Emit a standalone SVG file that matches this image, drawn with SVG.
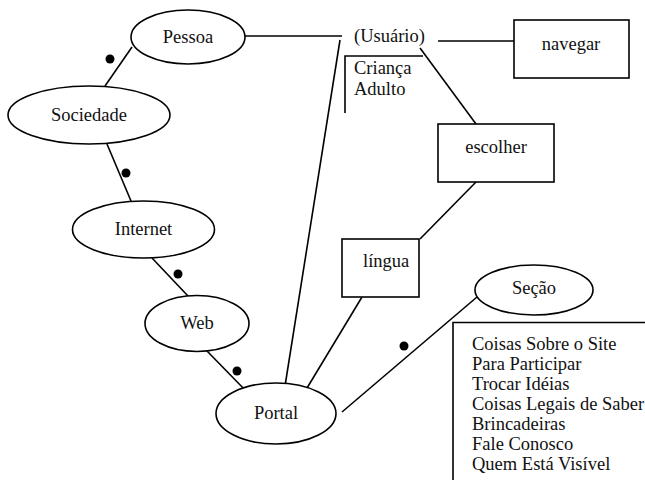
<svg xmlns="http://www.w3.org/2000/svg" width="645" height="480" viewBox="0 0 645 480">
  <style>
    .shape { fill: #fff; stroke: #000; stroke-width: 1.6; }
    .line { fill: none; stroke: #000; stroke-width: 1.6; }
    .dot { fill: #000; }
    text { font-family: "Liberation Serif", "Times New Roman", serif; font-size: 18.5px; fill: #111; }
    .c { text-anchor: middle; }
  </style>
  <rect width="645" height="480" fill="#fff"/>

  <g id="connectors">
    <line class="line" x1="132" y1="47" x2="105" y2="86"/>
    <line class="line" x1="107" y1="144" x2="131" y2="201"/>
    <line class="line" x1="152" y1="258" x2="188" y2="296"/>
    <line class="line" x1="207" y1="351" x2="247" y2="392"/>
    <line class="line" x1="245" y1="36" x2="342" y2="36"/>
    <line class="line" x1="340" y1="40" x2="285" y2="386"/>
    <line class="line" x1="438" y1="41" x2="515" y2="41"/>
    <line class="line" x1="420" y1="48" x2="476" y2="124"/>
    <line class="line" x1="476" y1="182" x2="420" y2="239"/>
    <line class="line" x1="362" y1="297" x2="304" y2="393"/>
    <line class="line" x1="342" y1="412" x2="477" y2="297"/>
    <circle class="dot" cx="110" cy="59" r="4.5"/>
    <circle class="dot" cx="126" cy="173" r="4.5"/>
    <circle class="dot" cx="178" cy="274" r="4.5"/>
    <circle class="dot" cx="237" cy="371" r="4.5"/>
    <circle class="dot" cx="404" cy="346" r="4.5"/>
  </g>

  <g id="pessoa">
    <ellipse class="shape" cx="188" cy="37" rx="57" ry="27"/>
    <text class="c" x="188" y="43">Pessoa</text>
  </g>
  <g id="sociedade">
    <ellipse class="shape" cx="89" cy="115" rx="81" ry="29"/>
    <text class="c" x="89" y="121">Sociedade</text>
  </g>
  <g id="internet">
    <ellipse class="shape" cx="143.5" cy="229.5" rx="71" ry="28.5"/>
    <text class="c" x="143.5" y="235">Internet</text>
  </g>
  <g id="web">
    <ellipse class="shape" cx="197" cy="323.5" rx="52" ry="28"/>
    <text class="c" x="197" y="329">Web</text>
  </g>
  <g id="portal">
    <ellipse class="shape" cx="276" cy="413.5" rx="60" ry="30.5"/>
    <text class="c" x="276" y="419">Portal</text>
  </g>
  <g id="secao">
    <ellipse class="shape" cx="534" cy="290" rx="59" ry="25"/>
    <text class="c" x="534" y="294">Seção</text>
  </g>

  <g id="usuario">
    <text x="354" y="42">(Usuário)</text>
    <polyline class="line" points="423,56 345,56 345,113"/>
    <text x="354" y="74">Criança</text>
    <text x="354" y="95">Adulto</text>
  </g>
  <g id="navegar">
    <rect class="shape" x="514" y="20" width="115" height="58"/>
    <text class="c" x="571" y="50">navegar</text>
  </g>
  <g id="escolher">
    <rect class="shape" x="438" y="124" width="116" height="58"/>
    <text class="c" x="496" y="153">escolher</text>
  </g>
  <g id="lingua">
    <rect class="shape" x="342" y="239" width="77" height="58"/>
    <text x="363" y="267">língua</text>
  </g>

  <g id="secoes">
    <polyline class="line" points="645,322.5 453,322.5 453,480"/>
    <text x="472" y="350">Coisas Sobre o Site</text>
    <text x="472" y="370">Para Participar</text>
    <text x="472" y="390">Trocar Idéias</text>
    <text x="472" y="410">Coisas Legais de Saber</text>
    <text x="472" y="430">Brincadeiras</text>
    <text x="472" y="450">Fale Conosco</text>
    <text x="472" y="470">Quem Está Visível</text>
  </g>
</svg>
